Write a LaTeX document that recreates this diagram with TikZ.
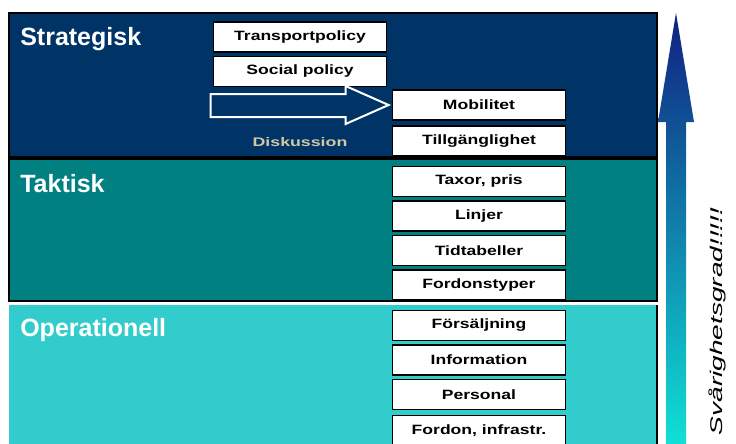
\documentclass[tikz,border=0pt]{standalone}
\usepackage{fontspec}
\setmainfont{Liberation Sans}
\newfontfamily\lvlfont{Liberation Sans}
\newfontfamily\boxfont[FakeStretch=1.3]{Liberation Sans}
\newfontfamily\diskfont[FakeStretch=1.42]{Liberation Sans}
\newfontfamily\gradfont[FakeStretch=1.65]{Liberation Sans}
\usetikzlibrary{positioning}
\definecolor{stratblue}{HTML}{003366}
\definecolor{taktteal}{HTML}{008080}
\definecolor{opcyan}{HTML}{33CCCC}
\definecolor{arrtop}{HTML}{102080}
\definecolor{arrmid}{HTML}{1080A0}
\definecolor{arrbot}{HTML}{10E0D6}
\definecolor{diskcol}{HTML}{D2C8A8}

\begin{document}
\begin{tikzpicture}[x=1pt,y=-1pt,node distance=34.5pt,semithick]
	\tikzstyle{band}=[draw=black, line width=2.5pt]
	\tikzstyle{lvl}=[anchor=base west, inner sep=0pt, text=white, font=\fontsize{25}{28}\lvlfont\bfseries]
	\tikzstyle{item}=[draw=black, line width=1.8pt, fill=white, minimum width=173pt, minimum height=30pt, inner sep=0pt, font=\fontsize{13.5}{14}\boxfont\bfseries]
	\tikzstyle{blockarr}=[draw=white, line width=2pt, line join=miter]
	\useasboundingbox (0,0) rectangle (736,444);
	% niva-band
	\draw[band, fill=stratblue] (9,13) rectangle (657,157);
	\draw[band, fill=taktteal] (9,159) rectangle (657,301);
	\fill[opcyan] (9,305) rectangle (657,450);
	\draw[band] (657,305) -- (657,450);
	\node[lvl] (strat) at (20,46) {Strategisk};
	\node[lvl] (takt) at (20,192) {Taktisk};
	\node[lvl] (oper) at (20,336) {Operationell};
	% strategisk
	\node[item] (tpol) at (300,37) {Transportpolicy};
	\node[item] (spol) [below of=tpol] {Social policy};
	\node[item] (mob) at (479,105) {Mobilitet};
	\node[item] (till) [below of=mob, yshift=-1.5pt] {Tillgänglighet};
	\draw[blockarr] ([xshift=-3pt]mob.west) -- ++(-43,-19) -- ++(0,8) -- ++(-135,0)
		-- ++(0,23) -- ++(135,0) -- ++(0,7) -- cycle;
	\node[anchor=base, inner sep=0pt, text=diskcol, font=\fontsize{12.5}{14}\diskfont\bfseries] (disk) at (300,146) {Diskussion};
	% taktisk
	\node[item] (tax) at (479,181.5) {Taxor, pris};
	\node[item] (lin) [below of=tax] {Linjer};
	\node[item] (tid) [below of=lin] {Tidtabeller};
	\node[item] (ftyp) [below of=tid] {Fordonstyper};
	% operationell
	\node[item] (fors) at (479,325.5) {Försäljning};
	\node[item] (info) [below of=fors] {Information};
	\node[item] (pers) [below of=info] {Personal};
	\node[item] (finf) [below of=pers, yshift=-1.5pt] {Fordon, infrastr.};
	% svarighetsgrad
	\shade[top color=arrtop, middle color=arrmid, bottom color=arrbot] (666,444) -- (666,122) -- (658,122)
		-- (676,13) -- (694,122) -- (686,122) -- (686,444) -- cycle;
	\node[rotate=90, inner sep=0pt, font=\fontsize{17}{19}\gradfont\itshape] (grad) at (717,321.5) {Svårighetsgrad!!!!!};
\end{tikzpicture}
\end{document}
